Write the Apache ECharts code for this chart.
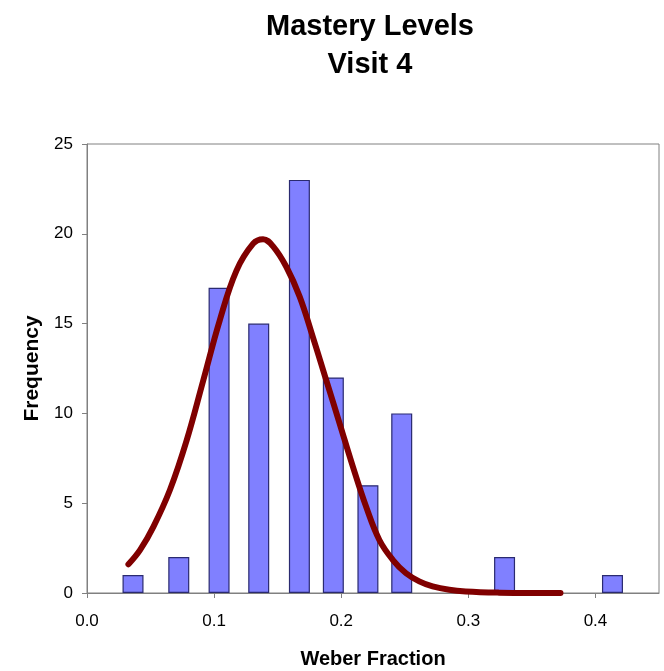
<!DOCTYPE html>
<html>
<head>
<meta charset="utf-8">
<script src="https://cdn.jsdelivr.net/npm/echarts@6/dist/echarts.min.js"></script>
<style>
  html, body { margin: 0; padding: 0; background: #ffffff; }
  #chart { width: 664px; height: 671px; }
</style>
</head>
<body>
<div id="chart"></div>
<script>
// Histogram of Weber fractions at visit 4, with a fitted normal curve.
const binCenters = [0.0362, 0.0722, 0.1039, 0.1351, 0.1671, 0.1938, 0.2210, 0.2476, 0.3285, 0.4134];
const frequencies = [1, 2, 17, 15, 23, 12, 6, 10, 2, 1];

// Fitted curve, sampled along the fraction axis.
const curveX = [0.0326, 0.0418, 0.0523, 0.0653, 0.0784, 0.0915, 0.1045, 0.1176, 0.1307, 0.1385,
                0.1464, 0.1569, 0.1673, 0.1777, 0.1882, 0.1987, 0.2091, 0.2196, 0.2300, 0.2405,
                0.2510, 0.2614, 0.2719, 0.2850, 0.2980, 0.3242, 0.3480, 0.3725];
const curveY = [1.6, 2.4, 3.7, 5.75, 8.5, 11.85, 15.2, 17.95, 19.45, 19.7,
                19.3, 18.15, 16.5, 14.25, 11.85, 9.45, 7.05, 4.8, 2.95, 1.85,
                1.1, 0.65, 0.37, 0.18, 0.09, 0.02, 0.0, 0.0];

const xTicks = [0.0, 0.1, 0.2, 0.3, 0.4];
const yTicks = [0, 5, 10, 15, 20, 25];

const titleLines = ['Mastery Levels', 'Visit 4'];
const xName = 'Weber Fraction';
const yName = 'Frequency';

const chart = echarts.init(document.getElementById('chart'), null, { renderer: 'canvas' });

const axisGray = '#808080';
const labelFont = "'Liberation Sans Narrow', 'Liberation Sans', Arial, sans-serif";
const boldFont = "'Liberation Sans', Arial, sans-serif";

chart.setOption({
  animation: false,
  backgroundColor: '#ffffff',
  graphic: [{
    type: 'text',
    x: 370,
    y: 8,
    style: {
      text: titleLines.join('\n'),
      fontFamily: boldFont,
      fontWeight: 'bold',
      fontSize: 29,
      lineHeight: 38,
      fill: '#000000',
      textAlign: 'center'
    }
  }],
  grid: {
    left: 87,
    right: 5,
    top: 144,
    bottom: 78,
    outerBoundsMode: 'none',
    containLabel: false,
    show: true,
    borderColor: axisGray,
    borderWidth: 1,
    backgroundColor: 'transparent'
  },
  xAxis: {
    type: 'value',
    min: xTicks[0],
    max: 0.45,
    interval: 0.1,
    name: xName,
    nameLocation: 'middle',
    nameGap: 56,
    nameTextStyle: { fontFamily: boldFont, fontWeight: 'bold', fontSize: 20, color: '#000000' },
    splitLine: { show: false },
    axisLine: { show: true, lineStyle: { color: axisGray, width: 1 } },
    axisTick: { show: true, inside: false, length: 5, lineStyle: { color: axisGray } },
    axisLabel: {
      margin: 20,
      showMaxLabel: false,
      fontFamily: labelFont,
      fontSize: 17,
      color: '#000000',
      formatter: v => (xTicks.some(t => Math.abs(t - v) < 1e-9) ? v.toFixed(1) : '')
    }
  },
  yAxis: {
    type: 'value',
    min: yTicks[0],
    max: yTicks[yTicks.length - 1],
    interval: 5,
    name: yName,
    nameLocation: 'middle',
    nameGap: 42,
    nameTextStyle: { fontFamily: boldFont, fontWeight: 'bold', fontSize: 21, color: '#000000' },
    splitLine: { show: false },
    axisLine: { show: true, lineStyle: { color: axisGray, width: 1 } },
    axisTick: { show: true, inside: false, length: 5, lineStyle: { color: axisGray } },
    axisLabel: {
      margin: 14,
      fontFamily: labelFont,
      fontSize: 17,
      color: '#000000'
    }
  },
  series: [
    {
      type: 'bar',
      data: binCenters.map((x, i) => [x, frequencies[i]]),
      barWidth: 21,
      itemStyle: { color: '#8080ff', borderColor: '#2a2a70', borderWidth: 1.2 },
      z: 2
    },
    {
      type: 'line',
      data: curveX.map((x, i) => [x, curveY[i]]),
      smooth: 0.4,
      showSymbol: false,
      clip: false,
      lineStyle: { color: '#800000', width: 6, cap: 'round', join: 'round' },
      z: 3
    }
  ]
});
</script>
</body>
</html>
